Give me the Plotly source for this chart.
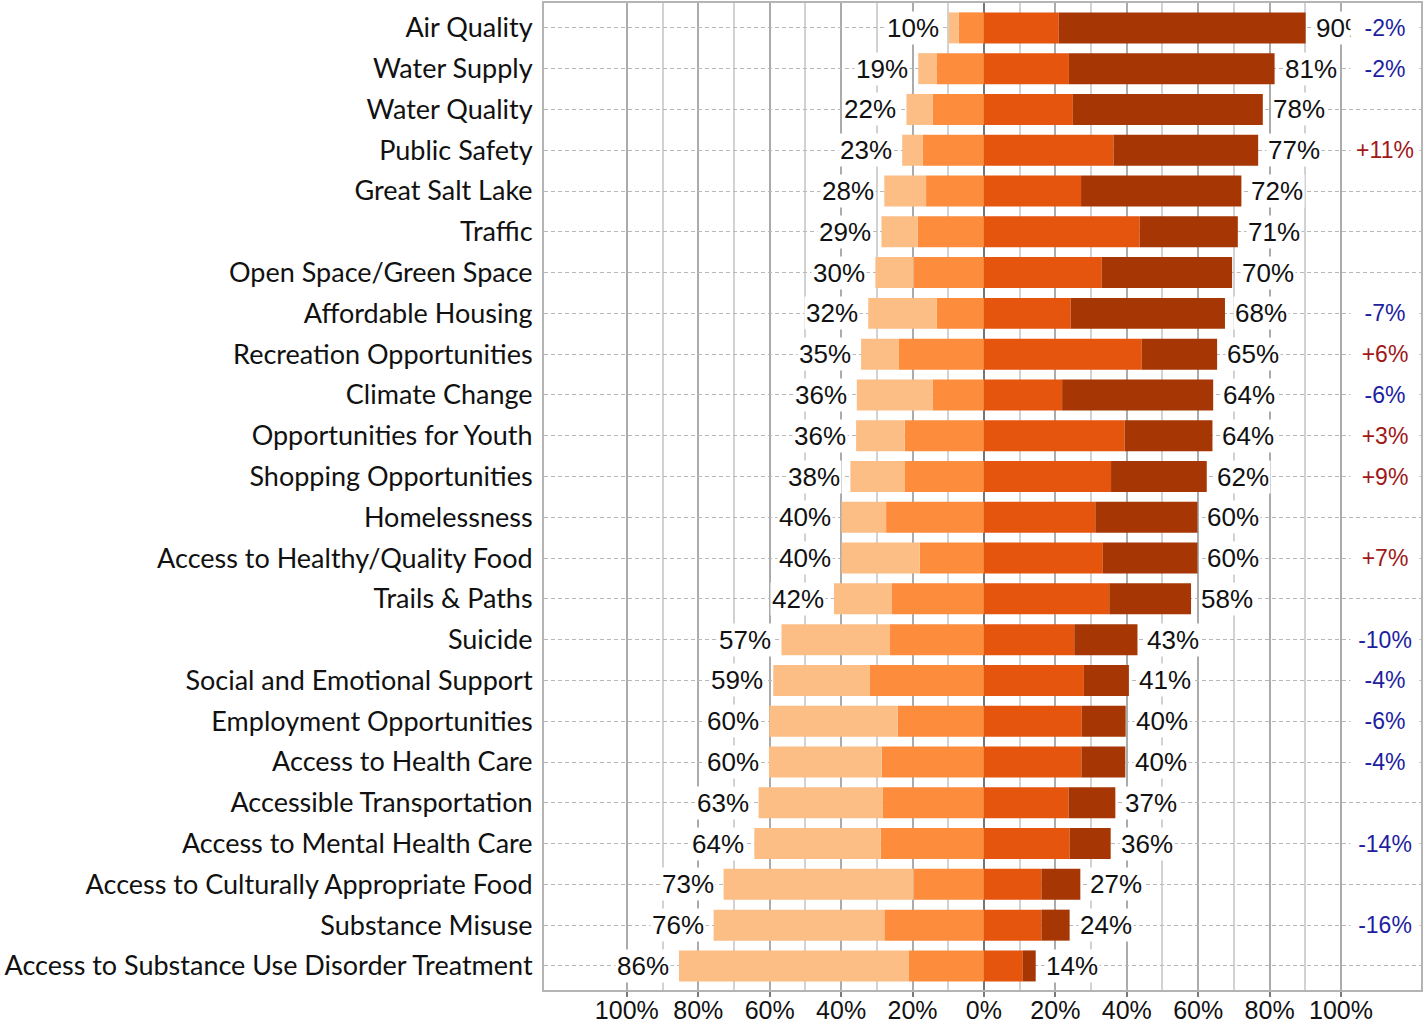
import plotly.graph_objects as go

categories = [
    "Air Quality", "Water Supply", "Water Quality", "Public Safety", "Great Salt Lake",
    "Traffic", "Open Space/Green Space", "Affordable Housing", "Recreation Opportunities",
    "Climate Change", "Opportunities for Youth", "Shopping Opportunities", "Homelessness",
    "Access to Healthy/Quality Food", "Trails & Paths", "Suicide", "Social and Emotional Support",
    "Employment Opportunities", "Access to Health Care", "Accessible Transportation",
    "Access to Mental Health Care", "Access to Culturally Appropriate Food", "Substance Misuse",
    "Access to Substance Use Disorder Treatment",
]

# segment shares in percent
very_low = [2.8, 5.1, 7.4, 5.8, 11.7, 10.2, 10.7, 19.2, 10.6, 21.2, 13.6, 15.3,
            12.5, 21.9, 16.1, 30.4, 27.1, 36.0, 31.6, 34.7, 35.4, 53.2, 47.8, 64.4]
low = [7.1, 13.3, 14.3, 17.1, 16.2, 18.5, 19.7, 13.2, 23.8, 14.4, 22.2, 22.1,
       27.4, 18.0, 25.9, 26.3, 31.9, 24.1, 28.6, 28.4, 28.9, 19.7, 27.9, 21.0]
high = [20.9, 23.8, 24.9, 36.3, 27.2, 43.6, 33.0, 24.3, 44.2, 21.9, 39.4, 35.6,
        31.2, 33.3, 35.1, 25.3, 28.0, 27.4, 27.3, 23.7, 24.0, 16.1, 16.1, 10.9]
very_high = [69.2, 57.6, 53.2, 40.5, 44.9, 27.5, 36.5, 43.2, 21.1, 42.3, 24.6, 26.8,
             28.6, 26.5, 22.9, 17.7, 12.6, 12.3, 12.3, 13.1, 11.5, 10.9, 7.9, 3.6]

neg_labels = [10, 19, 22, 23, 28, 29, 30, 32, 35, 36, 36, 38, 40, 40, 42, 57, 59, 60, 60, 63, 64, 73, 76, 86]
pos_labels = [90, 81, 78, 77, 72, 71, 70, 68, 65, 64, 64, 62, 60, 60, 58, 43, 41, 40, 40, 37, 36, 27, 24, 14]
changes = ["-2%", "-2%", "", "+11%", "", "", "", "-7%", "+6%", "-6%", "+3%", "+9%",
           "", "+7%", "", "-10%", "-4%", "-6%", "-4%", "", "-14%", "", "-16%", ""]

tick_vals = [-1.0, -0.8, -0.6, -0.4, -0.2, 0.0, 0.2, 0.4, 0.6, 0.8, 1.0]
tick_text = ["100%", "80%", "60%", "40%", "20%", "0%", "20%", "40%", "60%", "80%", "100%"]
minor_vals = [-0.9, -0.7, -0.5, -0.3, -0.1, 0.1, 0.3, 0.5, 0.7, 0.9]

C_VLOW = "#FDBE85"
C_LOW = "#FD8D3C"
C_HIGH = "#E6550D"
C_VHIGH = "#A63603"

fig = go.Figure()
bw = 0.76
fig.add_trace(go.Bar(y=categories, x=[-v / 100 for v in low], orientation="h",
                     marker=dict(color=C_LOW, line=dict(width=0)), width=bw, name="low"))
fig.add_trace(go.Bar(y=categories, x=[-v / 100 for v in very_low], orientation="h",
                     marker=dict(color=C_VLOW, line=dict(width=0)), width=bw, name="very low"))
fig.add_trace(go.Bar(y=categories, x=[v / 100 for v in high], orientation="h",
                     marker=dict(color=C_HIGH, line=dict(width=0)), width=bw, name="high"))
fig.add_trace(go.Bar(y=categories, x=[v / 100 for v in very_high], orientation="h",
                     marker=dict(color=C_VHIGH, line=dict(width=0)), width=bw, name="very high"))

annotations = []
lab_font = dict(family="Liberation Sans, Arial, sans-serif", size=26, color="#111111")
for i, cat in enumerate(categories):
    neg_end = -(very_low[i] + low[i]) / 100
    pos_end = (high[i] + very_high[i]) / 100
    annotations.append(dict(x=neg_end, y=cat, xref="x", yref="y", text=f"{neg_labels[i]}%",
                            showarrow=False, xanchor="right", xshift=-8, font=lab_font,
                            bgcolor="white", borderpad=1))
    annotations.append(dict(x=pos_end, y=cat, xref="x", yref="y", text=f"{pos_labels[i]}%",
                            showarrow=False, xanchor="left", xshift=8, font=lab_font,
                            bgcolor="white", borderpad=1))
for i, cat in enumerate(categories):
    if changes[i]:
        col = "#A01818" if changes[i].startswith("+") else "#1E1EA0"
        annotations.append(dict(x=1.124, y=cat, xref="x", yref="y", text=changes[i],
                                showarrow=False, xanchor="center", width=66, height=34,
                                font=dict(family="Liberation Sans, Arial, sans-serif", size=23, color=col),
                                bgcolor="white", borderpad=1))

fig.update_layout(
    barmode="relative",
    width=1425, height=1025,
    margin=dict(l=544, r=4, t=3, b=35, autoexpand=False),
    paper_bgcolor="white", plot_bgcolor="white",
    showlegend=False,
    annotations=annotations,
)
fig.update_xaxes(
    automargin=False,
    range=[-1.232, 1.224],
    tickvals=tick_vals, ticktext=tick_text,
    tickfont=dict(family="Liberation Sans, Arial, sans-serif", size=25, color="#111111"),
    showgrid=True, gridcolor="#ABABAB", gridwidth=2,
    minor=dict(tickvals=minor_vals, showgrid=True, gridcolor="#D2D2D2", gridwidth=1.5, ticks=""),
    zeroline=True, zerolinecolor="#757575", zerolinewidth=2,
    showline=True, linecolor="#B4B4B4", linewidth=2, mirror=True,
    ticks="outside", ticklen=5, tickcolor="#7A7A7A", tickwidth=2,
    ticklabelstandoff=-8,
)
fig.update_yaxes(
    automargin=False,
    categoryorder="array", categoryarray=categories,
    range=[23.59, -0.61],
    tickfont=dict(family="Lato, Carlito, sans-serif", size=27, color="#111111"),
    showgrid=True, gridcolor="#B8B8B8", gridwidth=1, griddash="4px,3px",
    showline=True, linecolor="#B4B4B4", linewidth=2, mirror=True,
    ticks="", ticklabelstandoff=4,
)

# remove the default page margin so the 1425x1025 figure fills the window exactly
fig.write_html("out.html", config={"displayModeBar": False},
               post_script="document.body.style.margin='0';")
